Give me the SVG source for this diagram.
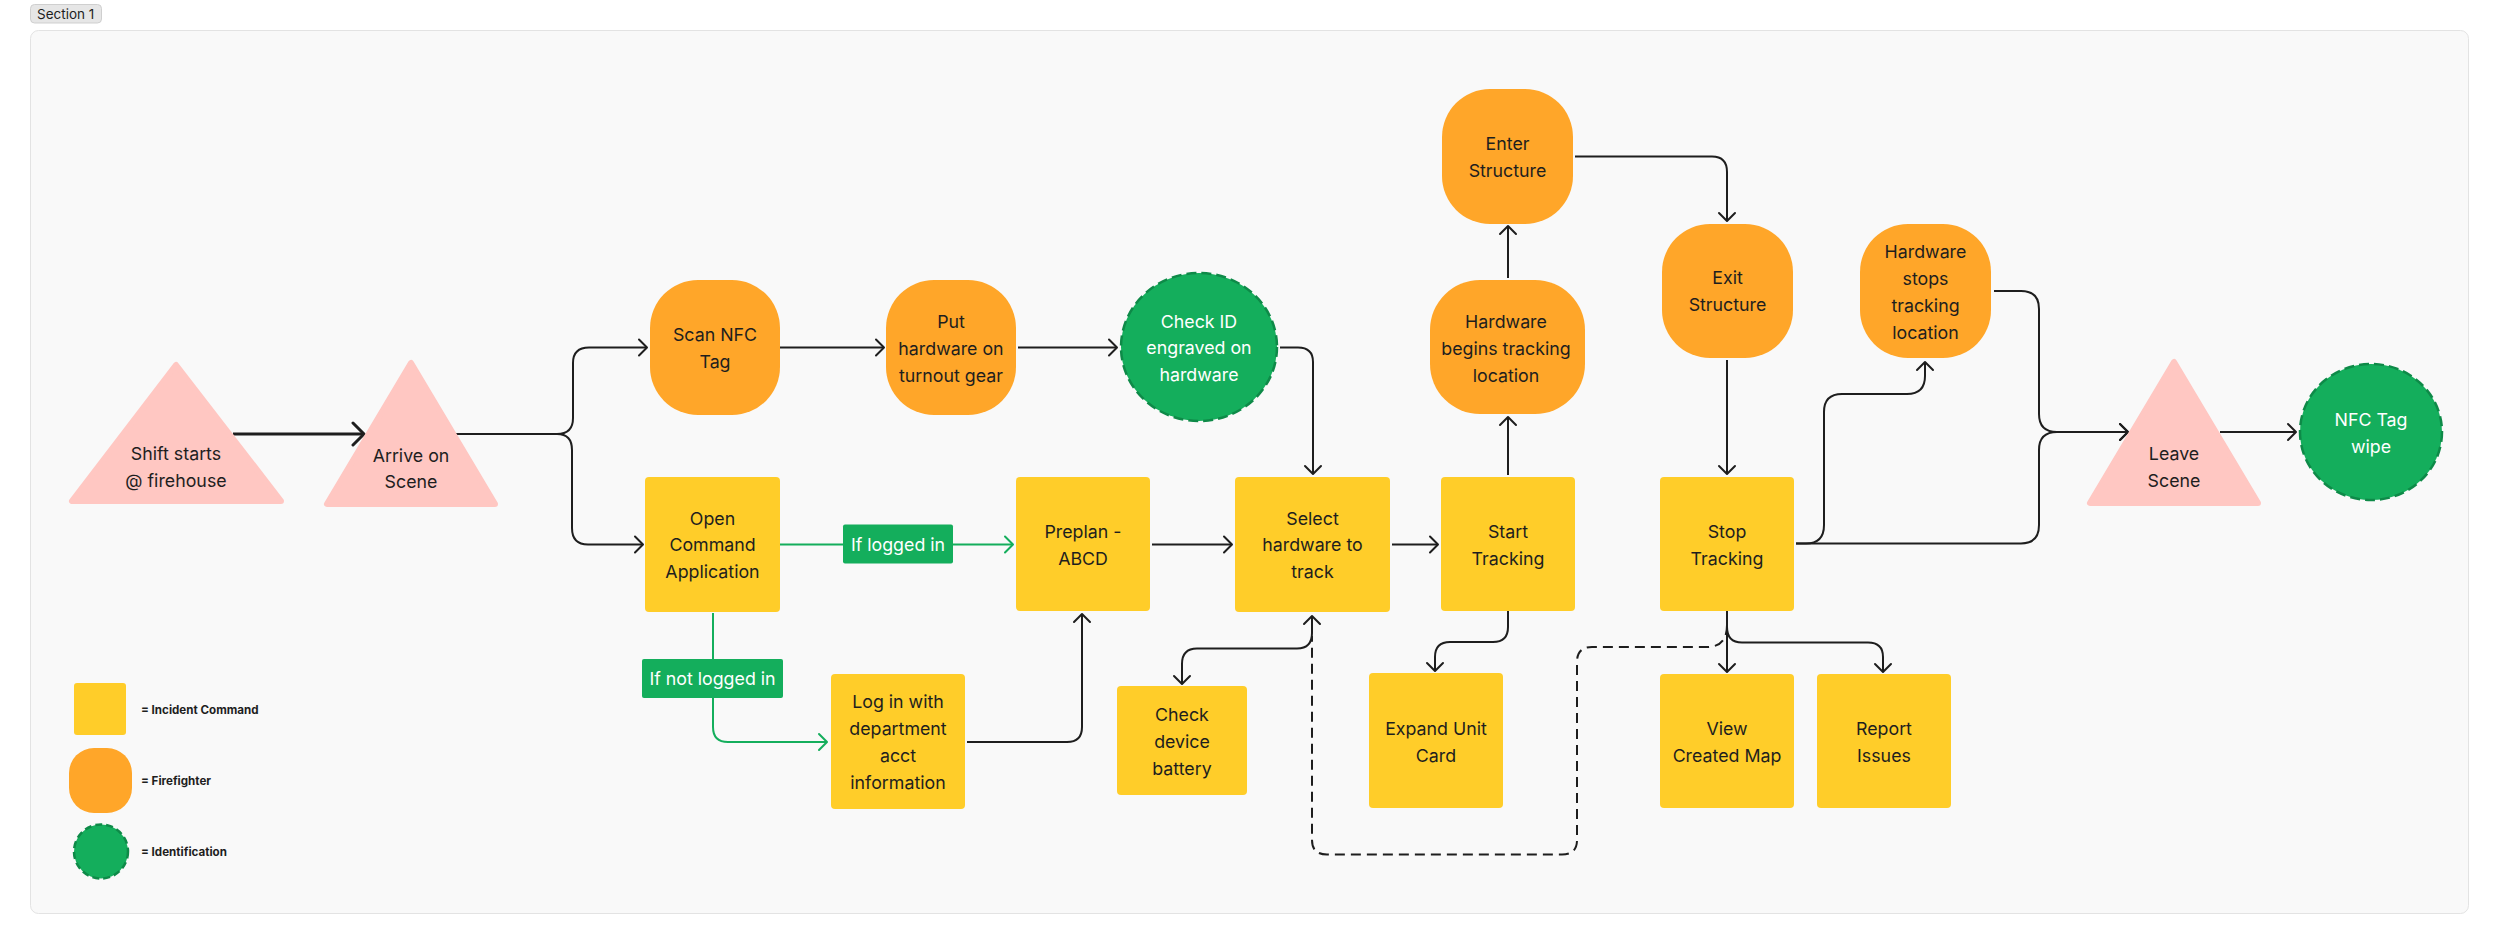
<svg xmlns="http://www.w3.org/2000/svg" width="2500" height="945" viewBox="0 0 2500 945">
<defs>
<style>
text{font-family:Inter,"Liberation Sans",sans-serif;fill:#1E1E1E}
.t{font-size:17.8px;text-anchor:middle;dominant-baseline:central}
.w{fill:#FFFFFF}
.lg{font-size:11.6px;font-weight:700;dominant-baseline:central}
.ic{fill:#FFCD29}
.ff{fill:#FFA629}
.tri{fill:#FFC7C2;stroke:#FFC7C2;stroke-width:6;stroke-linejoin:round}
.idn{fill:#14AE5C;stroke:#0E8A48;stroke-width:2.5;stroke-dasharray:10 5}
.lab{fill:#14AE5C}
.c{fill:none;stroke:#1E1E1E;stroke-width:2;marker-end:url(#ah)}
.cg{fill:none;stroke:#14AE5C;stroke-width:2}
.dash{fill:none;stroke:#1E1E1E;stroke-width:2;stroke-dasharray:10 6}
</style>
<marker id="ah" viewBox="-12 -10 14 20" refX="0" refY="0" markerWidth="14" markerHeight="20" markerUnits="userSpaceOnUse" orient="auto-start-reverse">
<path d="M-8,-8 L0,0 L-8,8" fill="none" stroke="#1E1E1E" stroke-width="2" stroke-linecap="round" stroke-linejoin="round"/>
</marker>
<marker id="ahb" viewBox="-15 -13 17 26" refX="0" refY="0" markerWidth="17" markerHeight="26" markerUnits="userSpaceOnUse" orient="auto">
<path d="M-11,-11 L0,0 L-11,11" fill="none" stroke="#1E1E1E" stroke-width="3" stroke-linecap="round" stroke-linejoin="round"/>
</marker>
<marker id="ahg" viewBox="-12 -10 14 20" refX="0" refY="0" markerWidth="14" markerHeight="20" markerUnits="userSpaceOnUse" orient="auto">
<path d="M-8,-8 L0,0 L-8,8" fill="none" stroke="#14AE5C" stroke-width="2" stroke-linecap="round" stroke-linejoin="round"/>
</marker>
</defs>

<g id="section">
<rect x="30.5" y="4.5" width="71" height="18.5" rx="4" fill="#E6E6E6" stroke="#CFCFCF"/>
<text x="37" y="18.5" font-size="13.5">Section 1</text>
<rect x="30.5" y="30.5" width="2438" height="883" rx="8" fill="#F9F9F9" stroke="#E3E3E3"/>
</g>

<g id="connectors">
<path d="M233 434 H364" fill="none" stroke="#1E1E1E" stroke-width="3" marker-end="url(#ahb)"/>
<path class="c" d="M455 434 H557 Q573 434 573 418 V363 Q573 347.5 589 347.5 H647"/>
<path class="c" d="M455 434 H557 Q572 434 572 450 V528 Q572 544.5 588 544.5 H643"/>
<path class="c" d="M780 347.5 H884"/>
<path class="c" d="M1018 347.5 H1117"/>
<path class="c" d="M1280 347.5 H1298 Q1313 347.5 1313 362 V474"/>
<path class="cg" d="M780 544.5 H1013" marker-end="url(#ahg)"/>
<path class="cg" d="M713 613 V727 Q713 742 728 742 H827" marker-end="url(#ahg)"/>
<path class="c" d="M967 742 H1067 Q1082 742 1082 727 V614"/>
<path class="c" d="M1152 544.5 H1232"/>
<path class="c" d="M1392 544.5 H1438"/>
<path class="c" d="M1508 475 V417"/>
<path class="c" d="M1508 278 V226"/>
<path class="c" d="M1575 156.5 H1712 Q1727 156.5 1727 172 V221"/>
<path class="c" d="M1727 360 V474"/>
<path class="c" d="M1796 543.5 H1806 Q1824 543.5 1824 525 V412 Q1824 394 1842 394 H1907 Q1925 394 1925 376 V362"/>
<path class="c" d="M1796 543.5 H2021 Q2039 543.5 2039 525 V450 Q2039 432 2057 432 H2128"/>
<path class="c" d="M1994 291 H2021 Q2039 291 2039 309 V414 Q2039 432 2057 432 H2128"/>
<path class="c" d="M2220 432 H2296"/>
<path class="c" d="M1312 633 Q1312 648.5 1297 648.5 H1197 Q1182 648.5 1182 664 V684"/>
<path class="c" d="M1312 633 V616"/>
<path class="c" d="M1508 611 V627 Q1508 642 1493 642 H1450 Q1435 642 1435 657 V671"/>
<path class="c" d="M1727 611 V672"/>
<path class="c" d="M1727 611 V627 Q1727 642.5 1742 642.5 H1868 Q1883 642.5 1883 657 V672"/>
<path class="dash" d="M1727 625 Q1727 647 1707 647 H1592 Q1577 647 1577 662 V840 Q1577 854.5 1562 854.5 H1327 Q1312 854.5 1312 840 V636"/>
</g>

<g id="n-shift"><polygon class="tri" points="176,365 72,501 281,501"/><text class="t" x="176" y="453">Shift starts</text><text class="t" x="176" y="480.5">@ firehouse</text></g>
<g id="n-arrive"><polygon class="tri" points="411,363 327,504 495,504"/><text class="t" x="411" y="455">Arrive on</text><text class="t" x="411" y="481">Scene</text></g>
<g id="n-scan"><rect class="ff" x="650" y="280" width="130" height="135" rx="48" ry="48"/><text class="t" x="715" y="334">Scan NFC</text><text class="t" x="715" y="361">Tag</text></g>
<g id="n-put"><rect class="ff" x="886" y="280" width="130" height="135" rx="48" ry="48"/><text class="t" x="951" y="321">Put</text><text class="t" x="951" y="348">hardware on</text><text class="t" x="951" y="375">turnout gear</text></g>
<g id="n-checkid"><ellipse class="idn" cx="1199" cy="347" rx="78" ry="74"/><text class="t w" x="1199" y="321">Check ID</text><text class="t w" x="1199" y="347.5">engraved on</text><text class="t w" x="1199" y="374">hardware</text></g>
<g id="n-open"><rect class="ic" x="645" y="477" width="135" height="135" rx="4"/><text class="t" x="712.5" y="518">Open</text><text class="t" x="712.5" y="544.5">Command</text><text class="t" x="712.5" y="571.5">Application</text></g>
<g id="l-loggedin"><rect class="lab" x="843" y="524.5" width="110" height="39" rx="2"/><text class="t w" x="898" y="544">If logged in</text></g>
<g id="l-notloggedin"><rect class="lab" x="642" y="659" width="141" height="39" rx="2"/><text class="t w" x="712.5" y="678.5">If not logged in</text></g>
<g id="n-preplan"><rect class="ic" x="1016" y="477" width="134" height="134" rx="4"/><text class="t" x="1083" y="531">Preplan -</text><text class="t" x="1083" y="558">ABCD</text></g>
<g id="n-login"><rect class="ic" x="831" y="674" width="134" height="135" rx="4"/><text class="t" x="898" y="701.5">Log in with</text><text class="t" x="898" y="728.5">department</text><text class="t" x="898" y="755">acct</text><text class="t" x="898" y="782">information</text></g>
<g id="n-select"><rect class="ic" x="1235" y="477" width="155" height="135" rx="4"/><text class="t" x="1312.5" y="518">Select</text><text class="t" x="1312.5" y="544.5">hardware to</text><text class="t" x="1312.5" y="571.5">track</text></g>
<g id="n-battery"><rect class="ic" x="1117" y="686" width="130" height="109" rx="4"/><text class="t" x="1182" y="714">Check</text><text class="t" x="1182" y="741">device</text><text class="t" x="1182" y="768">battery</text></g>
<g id="n-start"><rect class="ic" x="1441" y="477" width="134" height="134" rx="4"/><text class="t" x="1508" y="531">Start</text><text class="t" x="1508" y="558">Tracking</text></g>
<g id="n-hwbegins"><rect class="ff" x="1430" y="280" width="155" height="134" rx="50" ry="50"/><text class="t" x="1506" y="321">Hardware</text><text class="t" x="1506" y="348">begins tracking</text><text class="t" x="1506" y="375">location</text></g>
<g id="n-enter"><rect class="ff" x="1442" y="89" width="131" height="135" rx="48" ry="48"/><text class="t" x="1507.5" y="143">Enter</text><text class="t" x="1507.5" y="170">Structure</text></g>
<g id="n-exit"><rect class="ff" x="1662" y="224" width="131" height="134" rx="48" ry="48"/><text class="t" x="1727.5" y="277.5">Exit</text><text class="t" x="1727.5" y="304.5">Structure</text></g>
<g id="n-hwstops"><rect class="ff" x="1860" y="224" width="131" height="134" rx="48" ry="48"/><text class="t" x="1925.5" y="251.5">Hardware</text><text class="t" x="1925.5" y="278.5">stops</text><text class="t" x="1925.5" y="305.5">tracking</text><text class="t" x="1925.5" y="332.5">location</text></g>
<g id="n-stop"><rect class="ic" x="1660" y="477" width="134" height="134" rx="4"/><text class="t" x="1727" y="531">Stop</text><text class="t" x="1727" y="558">Tracking</text></g>
<g id="n-expand"><rect class="ic" x="1369" y="673" width="134" height="135" rx="4"/><text class="t" x="1436" y="728">Expand Unit</text><text class="t" x="1436" y="755">Card</text></g>
<g id="n-view"><rect class="ic" x="1660" y="674" width="134" height="134" rx="4"/><text class="t" x="1727" y="728.5">View</text><text class="t" x="1727" y="755.5">Created Map</text></g>
<g id="n-report"><rect class="ic" x="1817" y="674" width="134" height="134" rx="4"/><text class="t" x="1884" y="728.5">Report</text><text class="t" x="1884" y="755.5">Issues</text></g>
<g id="n-leave"><polygon class="tri" points="2174,362 2090,503 2258,503"/><text class="t" x="2174" y="453">Leave</text><text class="t" x="2174" y="480">Scene</text></g>
<g id="n-nfcwipe"><ellipse class="idn" cx="2371" cy="432" rx="71" ry="68"/><text class="t w" x="2371" y="419">NFC Tag</text><text class="t w" x="2371" y="446">wipe</text></g>

<g id="legend">
<rect class="ic" x="74" y="683" width="52" height="52" rx="3"/>
<text class="lg" x="141" y="710">= Incident Command</text>
<rect class="ff" x="69" y="748" width="63" height="65" rx="25" ry="25"/>
<text class="lg" x="141" y="781">= Firefighter</text>
<ellipse class="idn" cx="101" cy="851.5" rx="27" ry="27" style="stroke-dasharray:7 4"/>
<text class="lg" x="141" y="852">= Identification</text>
</g>
</svg>
